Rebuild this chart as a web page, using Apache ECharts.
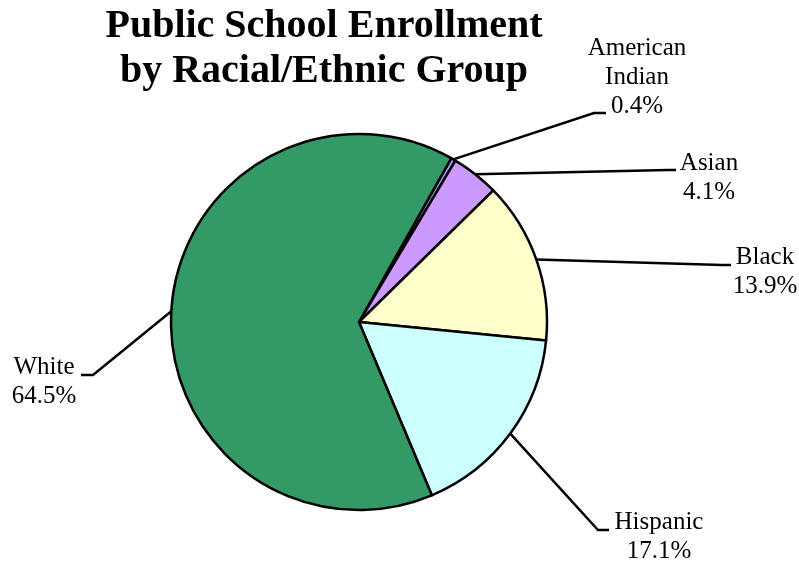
<!DOCTYPE html>
<html>
<head>
<meta charset="utf-8">
<style>
  html, body { margin: 0; padding: 0; background: #ffffff; }
  #chart { width: 799px; height: 564px; }
</style>
<script src="https://cdn.jsdelivr.net/npm/echarts@6/dist/echarts.min.js"></script>
</head>
<body>
<div id="chart"></div>
<script>
// Enrollment shares by group, percent of total
const groups = ['American Indian', 'Asian', 'Black', 'Hispanic', 'White'];
const shares = [0.4, 4.1, 13.9, 17.1, 64.5];
const sliceColors = ['#9999FF', '#CC99FF', '#FFFFCC', '#CCFFFF', '#339966'];

// Where each callout sits: label anchor, leader-line elbow and end point
const callouts = {
  'American Indian': { x: 637, y: 77,  align: 'center', elbow: [594, 113], end: [606, 113] },
  'Asian':           { x: 709, y: 178, align: 'center', elbow: [668, 170], end: [676, 170] },
  'Black':           { x: 765, y: 272, align: 'center', elbow: [722, 265], end: [731, 265] },
  'Hispanic':        { x: 659, y: 537, align: 'center', elbow: [598, 530], end: [609, 530] },
  'White':           { x: 44,  y: 382, align: 'center', elbow: [93, 375],  end: [81, 375] }
};

const serif = '"Liberation Serif", "Times New Roman", serif';
const chart = echarts.init(document.getElementById('chart'), null, { renderer: 'canvas' });

chart.setOption({
  animation: false,
  backgroundColor: '#ffffff',
  title: {
    text: 'Public School Enrollment\nby Racial/Ethnic Group',
    left: 324,
    top: 4,
    padding: 0,
    textAlign: 'center',
    textStyle: {
      fontFamily: serif,
      fontWeight: 'bold',
      fontSize: 40,
      lineHeight: 45,
      color: '#000000'
    }
  },
  series: [{
    type: 'pie',
    center: [359, 322],
    radius: 188,
    startAngle: 60.6,
    clockwise: true,
    avoidLabelOverlap: false,
    silent: true,
    data: groups.map((g, i) => ({
      name: g,
      value: shares[i],
      itemStyle: { color: sliceColors[i] }
    })),
    itemStyle: { borderColor: '#000000', borderWidth: 2.5 },
    label: {
      show: true,
      position: 'outside',
      fontFamily: serif,
      fontSize: 25,
      lineHeight: 29,
      color: '#000000',
      formatter: p => p.name.replace(' ', '\n') + '\n' + p.value.toFixed(1) + '%'
    },
    labelLine: {
      show: true,
      length: 20,
      length2: 10,
      lineStyle: { color: '#000000', width: 2.5 }
    },
    labelLayout: function (params) {
      const c = callouts[groups[params.dataIndex]];
      const start = params.labelLinePoints ? params.labelLinePoints[0] : c.elbow;
      return {
        x: c.x,
        y: c.y,
        align: c.align,
        verticalAlign: 'middle',
        labelLinePoints: [start, c.elbow, c.end]
      };
    }
  }]
});
</script>
</body>
</html>
